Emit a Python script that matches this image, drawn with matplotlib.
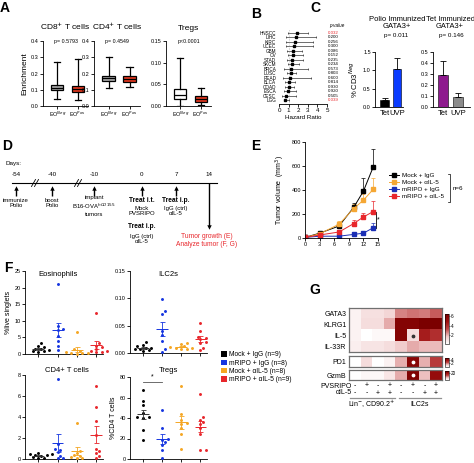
import numpy as np
import matplotlib
matplotlib.use('Agg')
import matplotlib.pyplot as plt
from matplotlib.colors import LinearSegmentedColormap
from matplotlib.lines import Line2D
from matplotlib.patches import Patch

plt.rcParams['font.family'] = ['Liberation Sans', 'DejaVu Sans']
plt.rcParams['axes.linewidth'] = 0.6
plt.rcParams['xtick.major.width'] = 0.6
plt.rcParams['ytick.major.width'] = 0.6
plt.rcParams['xtick.major.size'] = 2
plt.rcParams['ytick.major.size'] = 2
plt.rcParams['xtick.major.pad'] = 1
plt.rcParams['ytick.major.pad'] = 1
plt.rcParams['xtick.labelsize'] = 4
plt.rcParams['ytick.labelsize'] = 4

# ---------------- DATA ----------------
# Panel A  [whislo, q1, median, q3, whishi]
a_groups = ['EO$^{Neg}$', 'EO$^{Pos}$']
a_titles = ['CD8$^{+}$ T cells', 'CD4$^{+}$ T cells', 'Tregs']
a_pvals = ['p= 0.5793', 'p= 0.4549', 'p<0.0001']
a_cd8 = [[0.045, 0.100, 0.112, 0.130, 0.270], [0.040, 0.085, 0.102, 0.125, 0.290]]
a_cd4 = [[0.110, 0.155, 0.170, 0.185, 0.300], [0.115, 0.150, 0.165, 0.185, 0.240]]
a_treg = [[0.000, 0.017, 0.026, 0.040, 0.110], [0.002, 0.010, 0.016, 0.023, 0.042]]

# Panel B
b_cancers = ['HNSCC', 'LIHC', 'KIRC', 'UCEC', 'GBM', 'OV', 'STAD', 'SKCM', 'BRCA',
             'LUSC', 'READ', 'BLCA', 'COAD', 'ESCA', 'CESC', 'LGG']
b_hr = [1.9, 1.73, 1.63, 1.57, 1.5, 1.47, 1.4, 1.33, 1.3, 1.23, 1.17, 1.0, 1.07, 0.97, 0.77, 0.67]
b_lo = [0.9, 0.73, 0.73, 0.73, 0.83, 0.9, 0.83, 0.9, 0.57, 0.83, 0.4, 0.63, 0.67, 0.57, 0.33, 0.5]
b_hi = [3.07, 3.9, 3.5, 3.5, 2.4, 2.47, 2.5, 2.07, 3.07, 1.73, 3.3, 1.63, 1.57, 1.73, 1.73, 1.0]
b_p = ['0.032', '0.200', '0.256', '0.300', '0.086', '0.152', '0.235', '0.234', '0.573',
       '0.803', '0.600', '0.814', '0.930', '0.920', '0.505', '0.039']

# Panel C
c_groups = ['Tet', 'UVP']
c_polio = [0.20, 1.05]
c_polio_err = [0.05, 0.28]
c_tet = [0.29, 0.09]
c_tet_err = [0.13, 0.04]

# Panel D
d_days = ['-54', '-40', '-10', '0', '7', '14']

# Panel E
e_days = [0, 3, 7, 10, 12, 14]
e_labels = ['Mock + IgG', 'Mock + \u03b1IL-5', 'mRIPO + IgG', 'mRIPO + \u03b1IL-5']
e_mock_igg = [5, 40, 100, 255, 390, 590]
e_mock_igg_err = [0, 8, 20, 40, 110, 150]
e_mock_il5 = [5, 35, 115, 245, 315, 405]
e_mock_il5_err = [0, 8, 25, 40, 50, 95]
e_mripo_igg = [5, 15, 15, 30, 40, 85]
e_mripo_igg_err = [0, 4, 5, 8, 10, 40]
e_mripo_il5 = [5, 25, 50, 120, 175, 220]
e_mripo_il5_err = [0, 6, 15, 30, 35, 85]

# Panel F
f_labels = ['Mock + IgG (n=9)', 'mRIPO + IgG (n=8)', 'Mock + \u03b1IL-5 (n=8)', 'mRIPO + \u03b1IL-5 (n=9)']
f_eos = [[0.5, 0.8, 1.0, 1.2, 1.4, 1.6, 2.0, 2.5, 3.3],
         [21, 8.5, 7.5, 7.2, 5.5, 4.0, 2.5, 1.2],
         [6.7, 1.5, 1.0, 0.5, 0.3, 0.2, 0.2, 0.1],
         [12.3, 3.2, 2.5, 2.0, 1.5, 1.0, 0.8, 0.5, 0.5]]
f_ilc2 = [[0.020, 0.015, 0.012, 0.010, 0.009, 0.008, 0.007, 0.005, 0.003],
          [0.098, 0.077, 0.072, 0.040, 0.033, 0.022, 0.008, 0.002],
          [0.019, 0.017, 0.012, 0.011, 0.010, 0.009, 0.008, 0.008],
          [0.055, 0.040, 0.030, 0.028, 0.025, 0.020, 0.018, 0.010, 0.005]]
f_cd4 = [[0.6, 0.5, 0.5, 0.4, 0.35, 0.3, 0.2, 0.1, 0.05],
         [7.6, 1.4, 1.0, 0.9, 0.7, 0.3, 0.1, 0.1],
         [3.4, 0.8, 0.6, 0.4, 0.3, 0.2, 0.1, 0.05],
         [7.0, 5.0, 3.6, 2.3, 1.0, 0.8, 0.6, 0.3, 0.1]]
f_treg = [[67, 57, 53, 45, 41, 41, 40, 28, 19],
          [48, 30, 20, 19, 17, 14, 9, 1],
          [71, 44, 38, 35, 34, 30, 24, 10],
          [63, 41, 38, 36, 34, 30, 24, 9, 9]]

# Panel G
g_rows_top = ['GATA3', 'KLRG1', 'IL-5', 'IL-33R']
g_top = [[0.4, 0.9, 0.9, 1.2, 2.5, 2.7, 2.6, 3.0],
         [0.4, 1.0, 1.0, 2.0, 6.0, 6.0, 6.4, 6.4],
         [0.4, 0.0, 0.2, 0.2, 6.0, 1.0, 4.5, 4.0],
         [0.5, 0.8, 0.8, 1.0, 1.5, 2.0, 1.8, 1.8]]
g_pd1 = [[0.0, 0.8, 0.0, 0.3, 1.5, 4.5, 1.5, 2.8]]
g_gzmb = [[0.0, 1.0, 1.0, 3.0, 8.0, 25.0, 7.0, 21.0]]
g_pvsripo = ['-', '+', '-', '+', '-', '+', '-', '+']
g_il5 = ['-', '-', '+', '+', '-', '-', '+', '+']

# ---------------- FIGURE ----------------
W, H = 474, 463
fig = plt.figure(figsize=(W / 100, H / 100), dpi=100)


def axpx(x0, y0, x1, y1, **kw):
    return fig.add_axes([x0 / W, 1 - y1 / H, (x1 - x0) / W, (y1 - y0) / H], **kw)


def txt(x, y, s, **kw):
    kw.setdefault('ha', 'center')
    kw.setdefault('va', 'center')
    return fig.text(x / W, 1 - y / H, s, **kw)


def clean(ax):
    ax.spines['top'].set_visible(False)
    ax.spines['right'].set_visible(False)


# panel letters
for lab, x, y in [('A', 5, 8), ('B', 256, 14), ('C', 315, 8), ('D', 7, 146),
                  ('E', 256, 146), ('F', 8, 268), ('G', 315, 290)]:
    txt(x, y, lab, fontsize=10, fontweight='bold')

# ---------- Panel A ----------
a_sets = [(a_cd8, 43, 88, 0.4, [0, 0.1, 0.2, 0.3, 0.4], ['0.0', '0.1', '0.2', '0.3', '0.4'], '#A8A8A8'),
          (a_cd4, 94, 140, 0.4, [0, 0.1, 0.2, 0.3, 0.4], ['0.0', '0.1', '0.2', '0.3', '0.4'], '#A8A8A8'),
          (a_treg, 166, 211, 0.15, [0, 0.05, 0.10, 0.15], ['0.00', '0.05', '0.10', '0.15'], 'white')]
for i, (data, x0, x1, ymax, yt, ytl, negc) in enumerate(a_sets):
    ax = axpx(x0, 41, x1, 106)
    stats = []
    for d in data:
        stats.append(dict(whislo=d[0], q1=d[1], med=d[2], q3=d[3], whishi=d[4], fliers=[]))
    bp = ax.bxp(stats, positions=[1, 2], widths=0.6, patch_artist=True, showfliers=False,
                boxprops=dict(linewidth=0.9, edgecolor='black'),
                medianprops=dict(color='black', linewidth=0.9),
                whiskerprops=dict(linewidth=0.9), capprops=dict(linewidth=0.9))
    bp['boxes'][0].set_facecolor(negc)
    bp['boxes'][1].set_facecolor('#E2371F')
    ax.set_xlim(0.3, 2.5)
    ax.set_ylim(0, ymax)
    ax.set_yticks(yt)
    ax.set_yticklabels(ytl)
    ax.set_xticks([1, 2])
    ax.set_xticklabels(a_groups, fontsize=4)
    clean(ax)
    ax.set_title(a_titles[i], fontsize=6, pad=8)
    ax.text(0.5, 1.0, a_pvals[i], transform=ax.transAxes, ha='center', va='center', fontsize=3.8)
    if i == 0:
        ax.set_ylabel('Enrichment', fontsize=6, labelpad=2)

# ---------- Panel B ----------
axb = axpx(279, 29, 327, 104)
ypos = np.arange(len(b_cancers))[::-1]
hr = np.array(b_hr)
axb.errorbar(hr, ypos, xerr=[hr - np.array(b_lo), np.array(b_hi) - hr], fmt='s', color='black',
             ms=1.6, elinewidth=0.4, capsize=1, capthick=0.4)
axb.axvline(1, color='#888888', lw=0.4, ls=':')
axb.set_xlim(0, 5)
axb.set_ylim(-0.9, 15.9)
axb.set_yticks(ypos)
axb.set_yticklabels(b_cancers, fontsize=3.3)
axb.tick_params(axis='y', length=0, pad=2)
axb.set_xticks([0, 1, 2, 3, 4, 5])
axb.tick_params(axis='x', labelsize=4.5)
for s in ['top', 'right', 'left']:
    axb.spines[s].set_visible(False)
axb.set_xlabel('Hazard Ratio', fontsize=4.5, labelpad=1)
axb.text(1.04, 1.04, 'p-value', transform=axb.transAxes, fontsize=3.3, style='italic', ha='left', va='center')
for yv, p in zip(ypos, b_p):
    col = '#E8262B' if float(p) < 0.05 else 'black'
    axb.text(1.02, yv, p, transform=axb.get_yaxis_transform(), fontsize=3.2, color=col,
             ha='left', va='center')

# ---------- Panel C ----------
axc1 = axpx(375, 52, 403, 107)
axc1.bar([0, 1], c_polio, width=0.72, color=['black', '#0A3BFF'], edgecolor='black', linewidth=0.4,
         yerr=[[0, 0], c_polio_err], error_kw=dict(elinewidth=0.6, capsize=2, capthick=0.6))
axc1.set_xlim(-0.8, 1.5)
axc1.set_ylim(0, 1.5)
axc1.set_yticks([0, 0.5, 1.0, 1.5])
axc1.set_yticklabels(['0.0', '0.5', '1.0', '1.5'])
axc1.set_xticks([0, 1])
axc1.set_xticklabels(c_groups, fontsize=5.5)
axc1.tick_params(axis='x', length=0, pad=2)
clean(axc1)
axc1.set_ylabel('% CD3$^{Neg}$', fontsize=5.5, labelpad=2)
txt(397, 23, 'Polio Immunized\nGATA3+', fontsize=5.5, linespacing=1.1)
txt(396, 35, 'p= 0.011', fontsize=4.5)

axc2 = axpx(433, 52, 470, 107)
axc2.bar([0, 1], c_tet, width=0.65, color=['#8E1A8E', '#8C8C8C'], edgecolor='black', linewidth=0.4,
         yerr=[[0, 0], c_tet_err], error_kw=dict(elinewidth=0.6, capsize=2, capthick=0.6))
axc2.set_xlim(-0.65, 1.75)
axc2.set_ylim(0, 0.5)
axc2.set_yticks([0, 0.1, 0.2, 0.3, 0.4, 0.5])
axc2.set_yticklabels(['0.0', '0.1', '0.2', '0.3', '0.4', '0.5'])
axc2.set_xticks([0, 1])
axc2.set_xticklabels(c_groups, fontsize=5.5)
axc2.tick_params(axis='x', length=0, pad=2)
clean(axc2)
txt(450, 23, 'Tet Immunized\nGATA3+', fontsize=5.4, linespacing=1.1)
txt(451, 35, 'p= 0.146', fontsize=4.5)

# ---------- Panel D (schematic) ----------
ov = fig.add_axes([0, 0, 1, 1], facecolor='none')
ov.set_xlim(0, W)
ov.set_ylim(H, 0)
ov.axis('off')
d_xpos = [16, 52, 94, 142, 176, 209]  # layout positions of timeline events
tl_y = 183
txt(6, 164, 'Days:', fontsize=4.5, ha='left')
ov.plot([12, 217], [tl_y, tl_y], color='black', lw=0.8)
for bx in [35, 78]:
    for dx in [-1.5, 1.5]:
        ov.plot([bx + dx - 2, bx + dx + 2], [tl_y + 3.5, tl_y - 3.5], color='black', lw=0.6)
for xp, dl in zip(d_xpos, d_days):
    txt(xp, 175, dl, fontsize=4.5)
for xp in d_xpos[:5]:
    ov.plot([xp, xp], [tl_y + 13, tl_y + 5], color='black', lw=1.0, solid_capstyle='butt')
    ov.plot([xp], [tl_y + 4.5], marker='^', ms=3.2, color='black', mew=0)
ov.plot([d_xpos[5], d_xpos[5]], [tl_y, 226], color='black', lw=1.0, solid_capstyle='butt')
ov.plot([d_xpos[5]], [227], marker='v', ms=3.2, color='black', mew=0)
txt(d_xpos[0], 203, 'immunize\nPolio', fontsize=4.3, linespacing=1.2)
txt(d_xpos[1], 203, 'boost\nPolio', fontsize=4.3, linespacing=1.2)
txt(d_xpos[2], 206, 'implant\nB16-OVA$^{hCD155}$\ntumors', fontsize=4.3, linespacing=1.2)
txt(d_xpos[3], 200, 'Treat i.t.', fontsize=4.8, fontweight='bold')
txt(d_xpos[3], 211, 'Mock\nPVSRIPO', fontsize=4.3, linespacing=1.2)
txt(d_xpos[3], 227, 'Treat i.p.', fontsize=4.8, fontweight='bold')
txt(d_xpos[3], 239, 'IgG (ctrl)\n\u03b1IL-5', fontsize=4.3, linespacing=1.2)
txt(d_xpos[4], 200, 'Treat i.p.', fontsize=4.8, fontweight='bold')
txt(d_xpos[4], 211, 'IgG (ctrl)\n\u03b1IL-5', fontsize=4.3, linespacing=1.2)
txt(207, 236, 'Tumor growth (E)', fontsize=4.8, color='#E8262B')
txt(207, 244, 'Analyze tumor (F, G)', fontsize=4.8, color='#E8262B')

# ---------- Panel E ----------
axe = axpx(305, 142, 378, 238)
e_series = [(e_mock_igg, e_mock_igg_err, 'black'), (e_mock_il5, e_mock_il5_err, '#F5A733'),
            (e_mripo_igg, e_mripo_igg_err, '#1B2FB5'), (e_mripo_il5, e_mripo_il5_err, '#E8262B')]
handles = []
for (vals, err, col), lab in zip(e_series, e_labels):
    axe.errorbar(e_days, vals, yerr=[np.zeros(len(err)), err], color=col, ecolor=col, lw=0.7,
                 marker='s', ms=2.2, elinewidth=0.5, capsize=1.5, capthick=0.5, alpha=1)
    handles.append(Line2D([0], [0], color=col, marker='s', ms=2.2, lw=0.7))
axe.set_xlim(0, 15)
axe.set_ylim(0, 800)
axe.set_xticks([0, 3, 6, 9, 12, 15])
axe.set_yticks([0, 200, 400, 600, 800])
clean(axe)
axe.set_ylabel('Tumor volume  (mm$^3$)', fontsize=5, labelpad=3)
# significance bracket
bx = 14.6
axe.plot([bx - 0.3, bx, bx, bx - 0.3], [e_mripo_il5[-1], e_mripo_il5[-1], e_mripo_igg[-1], e_mripo_igg[-1]],
         color='black', lw=0.6, clip_on=False)
axe.text(bx + 0.5, (e_mripo_il5[-1] + e_mripo_igg[-1]) / 2, '*', fontsize=5, va='center', ha='center')
fig.legend(handles, e_labels, loc='upper left', bbox_to_anchor=(386 / W, 1 - 170 / H), frameon=False,
           fontsize=4.5, handlelength=1.6, labelspacing=0.25, borderpad=0, handletextpad=0.4)
ov.plot([448, 450, 450, 448], [174, 174, 202, 202], color='black', lw=0.5)
txt(453, 188, 'n=6', fontsize=4.5, ha='left')

# ---------- Panel F ----------
f_colors = ['black', '#1535E0', '#F5A623', '#E8262B']


def swarm(ax, xpos, vals, dpx=3.3):
    vals = np.asarray(vals, float)
    ys = ax.transData.transform(np.column_stack([np.full(len(vals), xpos), vals]))[:, 1]
    xs = ax.transData.transform([(1, 0), (0, 0)])
    xscale = xs[0, 0] - xs[1, 0]
    placed = []
    offs = np.zeros(len(vals))
    for i in np.argsort(vals):
        cand = 0.0
        for k in range(40):
            cand = 0.0 if k == 0 else ((k + 1) // 2) * (1 if k % 2 else -1) * dpx * 0.85
            if all((cand - px) ** 2 + (ys[i] - py) ** 2 >= dpx ** 2 for px, py in placed):
                break
        placed.append((cand, ys[i]))
        offs[i] = cand / xscale
    return offs


def fpanel(box, data, ylim, yt, ytl):
    ax = axpx(*box)
    ax.set_xlim(-0.68, 3.35)
    ax.set_ylim(*ylim)
    ax.set_yticks(yt)
    ax.set_yticklabels(ytl)
    ax.set_xticks([0, 1, 2, 3])
    ax.set_xticklabels([])
    clean(ax)
    for g, (vals, col) in enumerate(zip(data, f_colors)):
        offs = swarm(ax, g, vals)
        ax.scatter(g + offs, vals, s=4.5, color=col, linewidths=0, zorder=3, clip_on=False)
        m = np.mean(vals)
        sem = np.std(vals, ddof=1) / np.sqrt(len(vals))
        ax.hlines(m, g - 0.3, g + 0.3, color=col if g else '#333333', lw=0.7, zorder=4)
        ax.errorbar([g], [m], yerr=[[sem], [sem]], color=col if g else '#333333', lw=0.6,
                    capsize=1.8, capthick=0.6, zorder=4)
    return ax


ax1 = fpanel((25, 271, 103, 354), f_eos, (0, 25), [0, 5, 10, 15, 20, 25], ['0', '5', '10', '15', '20', '25'])
ax1.set_ylabel('%live singlets', fontsize=5, labelpad=2)
ax1.text(0.42, 0.96, 'Eosinophils', transform=ax1.transAxes, fontsize=5.5, ha='center', va='center')
ax2 = fpanel((130, 271, 207, 353), f_ilc2, (0, 0.15), [0, 0.05, 0.10, 0.15], ['0.00', '0.05', '0.10', '0.15'])
ax2.text(0.5, 0.96, 'ILC2s', transform=ax2.transAxes, fontsize=5.5, ha='center', va='center')
ax3 = fpanel((25, 375, 103, 459), f_cd4, (0, 8), [0, 2, 4, 6, 8], ['0', '2', '4', '6', '8'])
txt(67, 370, 'CD4+ T cells', fontsize=5.5)
ax4 = fpanel((130, 377, 207, 459), f_treg, (0, 80), [0, 20, 40, 60, 80], ['0', '20', '40', '60', '80'])
ax4.set_ylabel('%CD4 T cells', fontsize=5, labelpad=2)
txt(168, 370, 'Tregs', fontsize=5.5)
ax4.plot([0, 1], [75, 75], color='#555555', lw=0.6)
ax4.text(0.5, 77, '*', fontsize=5, ha='center', va='bottom')
fhandles = [Patch(facecolor=c, edgecolor='none') for c in f_colors]
fig.legend(fhandles, f_labels, loc='upper left', bbox_to_anchor=(218 / W, 1 - 348 / H), frameon=False,
           fontsize=4.8, handlelength=0.8, handleheight=0.8, labelspacing=0.2, borderpad=0, handletextpad=0.3)

# ---------- Panel G ----------
cmap = LinearSegmentedColormap.from_list('wr', ['#FFFFFF', '#F0C8C8', '#C04848', '#9E1010', '#7A0000'])


def heat(box, data, rows, vmax, cbox, cticks):
    ax = axpx(*box)
    ax.imshow(np.array(data), cmap=cmap, vmin=0, vmax=vmax, aspect='auto')
    ax.set_xticks([])
    ax.set_yticks(range(len(rows)))
    ax.set_yticklabels(rows, fontsize=5)
    ax.tick_params(axis='y', length=0, pad=2)
    for s in ax.spines.values():
        s.set_color('#707070')
        s.set_linewidth(0.9)
    cax = axpx(*cbox)
    cb = fig.colorbar(ax.images[0], cax=cax, ticks=cticks)
    cb.outline.set_linewidth(0.4)
    cax.tick_params(labelsize=3.4, length=1, width=0.4, pad=0.5)
    return ax


gt = heat((349, 308, 442, 352), g_top, g_rows_top, 6.5, (445, 314, 449, 344), [2, 4, 6])
gp = heat((349, 356, 442, 367), g_pd1, ['PD1'], 5, (445, 358, 449, 367), [2, 4])
gg = heat((349, 370, 442, 380), g_gzmb, ['GzmB'], 26, (445, 371, 449, 380), [20])
gt.scatter([5], [2], s=3, color='#333333', zorder=3)
gp.scatter([5], [0], s=3, color='white', zorder=3)
gg.scatter([5], [0], s=3, color='white', zorder=3)
col_c = [349 + (i + 0.5) * (442 - 349) / 8 for i in range(8)]
txt(352, 386, 'PVSRIPO', fontsize=5, ha='right')
txt(352, 393, '\u03b1IL-5', fontsize=5, ha='right')
for xc, a, b in zip(col_c, g_pvsripo, g_il5):
    txt(xc, 386, a, fontsize=5)
    txt(xc, 393, b, fontsize=5)
ov.plot([350, 395], [398, 398], color='#909090', lw=0.9)
ov.plot([399, 441], [398, 398], color='#909090', lw=0.9)
txt(372, 404, 'Lin$^{-}$, CD90.2$^{+}$', fontsize=5)
txt(420, 404, 'ILC2s', fontsize=5)

fig.savefig('out.png', dpi=100)
